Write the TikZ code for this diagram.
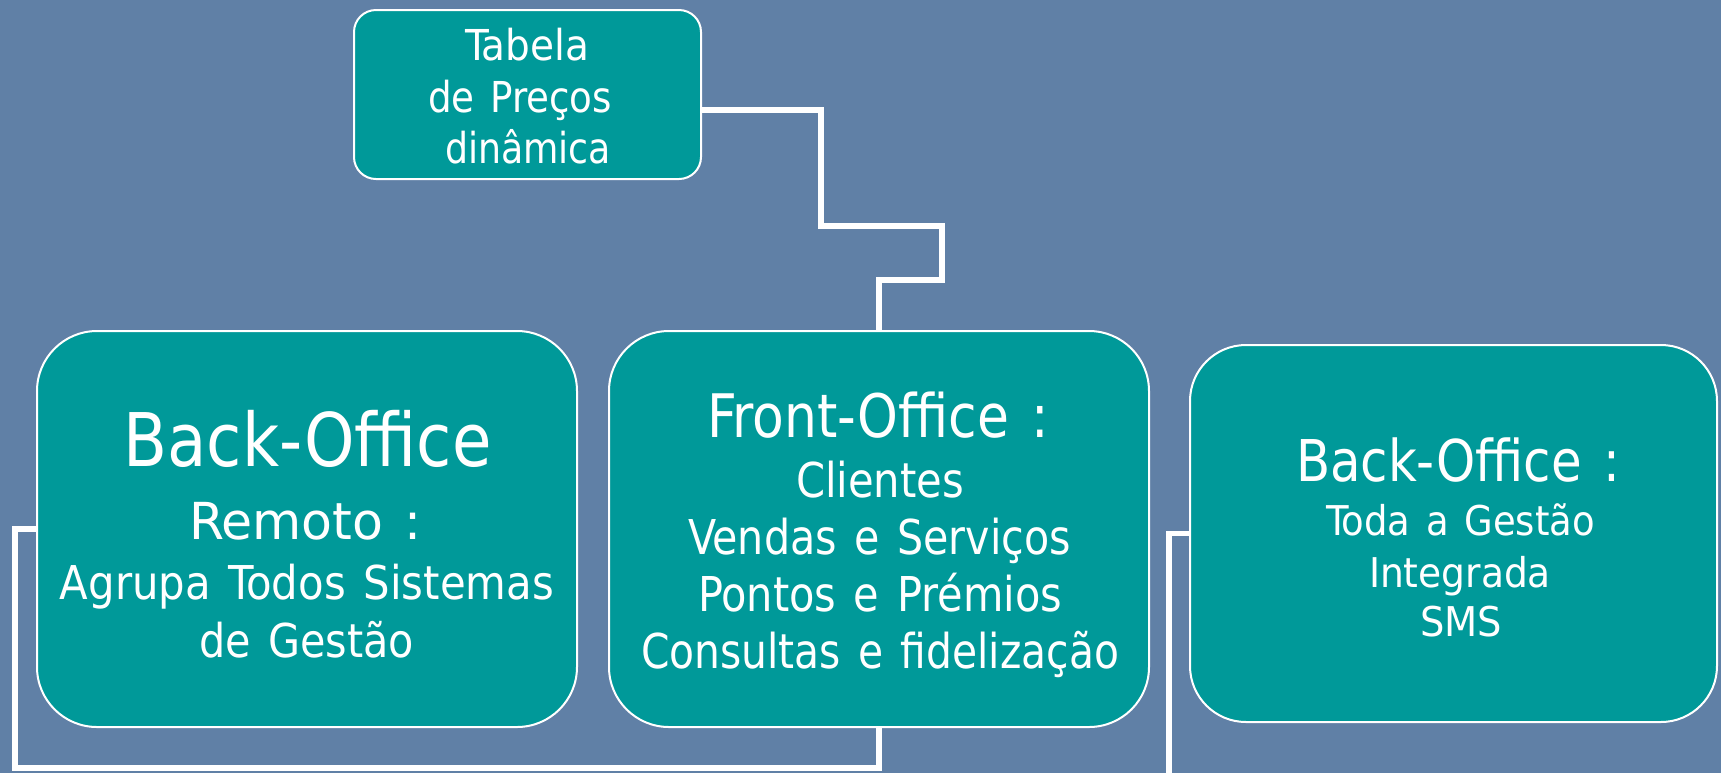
\documentclass[tikz,border=0pt]{standalone}
\usepackage{fontspec}
\usepackage{graphicx}
\setmainfont{DejaVu Sans Condensed}[WordSpace=1.35]
\newcommand\fsz[2]{\fontsize{#1}{#2}\selectfont}
\newlength\fitlen
\newcommand\fitw[2]{\settowidth\fitlen{#2}\pgfmathsetmacro\fitr{#1/\fitlen}\scalebox{\fitr}[1]{#2}}
\definecolor{bgblue}{RGB}{96,128,166}
\definecolor{tealbox}{RGB}{0,153,153}
\tikzset{
  box/.style={draw=white, line width=1pt, fill=tealbox, inner sep=0pt},
  lbl/.style={text=white, inner sep=0pt, anchor=base},
  conn/.style={draw=white, line width=2.6pt, line join=miter}
}
\begin{document}
\begin{tikzpicture}[x=0.5pt,y=-0.5pt]
\fill[bgblue] (0,0) rectangle (1721,773);
\useasboundingbox (0,0) rectangle (1721,773);

% boxes
\node[box, minimum width=173.5pt, minimum height=84.5pt, rounded corners=11pt] (tab) at (527.5,94.5) {};
\node[box, minimum width=270pt, minimum height=198pt, rounded corners=30pt] (bor) at (307,529) {};
\node[box, minimum width=270pt, minimum height=198pt, rounded corners=30pt] (fo) at (879,529) {};
\node[box, minimum width=263.5pt, minimum height=188.5pt, rounded corners=28pt] (bo) at (1453.5,533.5) {};

% Tabela de Precos dinamica
\node[lbl] (tab1) at (527,60)  {\fitw{62pt}{\fsz{21.3}{25}Tabela}};
\node[lbl] (tab2) at (520,112) {\fitw{92pt}{\fsz{21.3}{25}de Preços}};
\node[lbl] (tab3) at (528,163) {\fitw{83pt}{\fsz{21.3}{25}dinâmica}};

% Back-Office Remoto
\node[lbl] (bor1) at (307.5,466) {\fitw{184pt}{\fsz{37}{40}Back-Office}};
\node[lbl] (bor2) at (305.5,539) {\fitw{116.5pt}{\fsz{25.5}{30}Remoto :}};
\node[lbl] (bor3) at (307,599)   {\fitw{247pt}{\fsz{23.3}{28}Agrupa Todos Sistemas}};
\node[lbl] (bor4) at (306.5,657) {\fitw{107.5pt}{\fsz{23.3}{28}de Gestão}};

% Front-Office
\node[lbl] (fo1) at (878,437)   {\fitw{171pt}{\fsz{30}{34}Front-Office :}};
\node[lbl] (fo2) at (880,497)   {\fitw{84pt}{\fsz{24}{28}Clientes}};
\node[lbl] (fo3) at (879.5,554) {\fitw{191.5pt}{\fsz{24}{28}Vendas e Serviços}};
\node[lbl] (fo4) at (880,611)   {\fitw{182pt}{\fsz{24}{28}Pontos e Prémios}};
\node[lbl] (fo5) at (880,668)   {\fitw{239pt}{\fsz{24}{28}Consultas e fidelização}};

% Back-Office (right)
\node[lbl] (bo1) at (1458,481)   {\fitw{162pt}{\fsz{28.8}{32}Back-Office :}};
\node[lbl] (bo2) at (1460.5,535) {\fitw{134.5pt}{\fsz{20.5}{24}Toda a Gestão}};
\node[lbl] (bo3) at (1460,587)   {\fitw{91pt}{\fsz{20.5}{24}Integrada}};
\node[lbl] (bo4) at (1461,636)   {\fitw{41pt}{\fsz{20.5}{24}SMS}};

% connectors
\coordinate (rend) at (1169,790);
\draw[conn] ([yshift=-7.75pt]tab.east) -| (821,226) -| (942,280) -| (fo.north);
\draw[conn] (bor.west) -| (15,768) -| (fo.south);
\draw[conn] (bo.west) -| (rend);
\end{tikzpicture}
\end{document}
